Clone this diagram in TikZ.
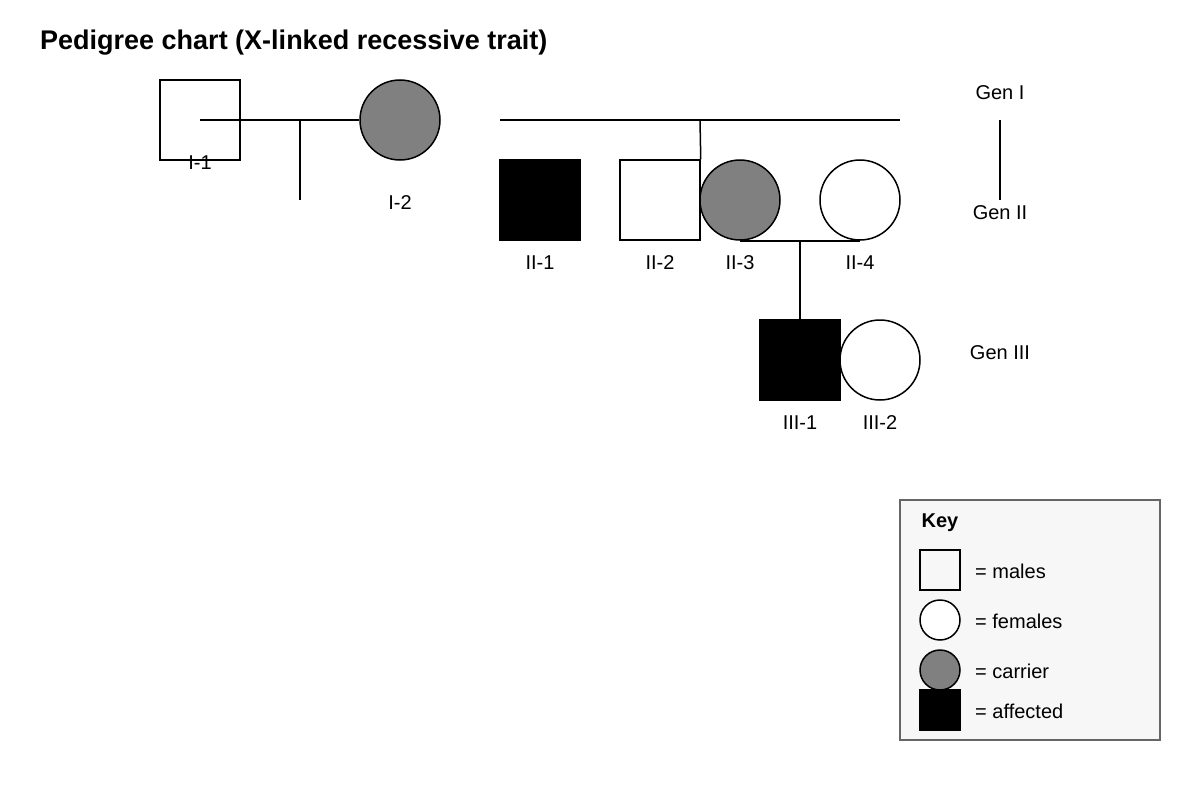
\documentclass[tikz,border=0pt]{standalone}
\usepackage{fontspec}
\setmainfont{Liberation Sans}
\begin{document}
\begin{tikzpicture}[x=1pt,y=-1pt,
  sq/.style={draw,line width=1.5pt,minimum size=80pt,inner sep=0,rectangle},
  ci/.style={draw,line width=1.5pt,minimum size=80pt,inner sep=0,circle},
  ksq/.style={draw,line width=1.5pt,minimum size=40pt,inner sep=0,rectangle},
  kci/.style={draw,line width=1.5pt,minimum size=40pt,inner sep=0,circle},
  lbl/.style={font=\fontsize{20}{24}\selectfont,inner sep=0},
  ln/.style={line width=1.5pt},
  carrier/.style={fill=gray!100!black, fill=black!50}]
\useasboundingbox (0,0) rectangle (1200,800);
\node[anchor=base west,font=\bfseries\fontsize{27}{32}\selectfont,inner sep=0] (title) at (40,50) {Pedigree chart (X-linked recessive trait)};
% Gen I
\node[sq] (I1) at (200,120) {};
\node[ci,carrier] (I2) at (400,120) {};
\coordinate (m1a) at (200,120);
\coordinate (m1b) at (300,120);
\coordinate (m1c) at (300,200);
\draw[ln] (m1a) -- (I2.west);
\draw[ln] (m1b) -- (m1c);
\node[lbl] (lI1) at (200,163) {I-1};
\node[lbl] (lI2) at (400,203) {I-2};
% sibship line
\coordinate (s1) at (500,120);
\coordinate (s2) at (900,120);
\coordinate (s3) at (700,120);
\draw[ln] (s1) -- (s2);
% Gen II
\node[sq,fill=black] (II1) at (540,200) {};
\node[sq] (II2) at (660,200) {};
\node[ci,carrier] (II3) at (740,200) {};
\node[ci] (II4) at (860,200) {};
\draw[ln] (s3) -- (II2.north east);
\node[lbl] (lII1) at (540,263) {II-1};
\node[lbl] (lII2) at (660,263) {II-2};
\node[lbl] (lII3) at (740,263) {II-3};
\node[lbl] (lII4) at (860,263) {II-4};
\coordinate (m2) at (800,240);
\draw[ln] (II3.south) -- (II4.south);
% Gen III
\node[sq,fill=black] (III1) at (800,360) {};
\node[ci] (III2) at (880,360) {};
\draw[ln] (m2) -- (III1.north);
\node[lbl] (lIII1) at (800,423) {III-1};
\node[lbl] (lIII2) at (880,423) {III-2};
% Generations
\node[lbl] (g1) at (1000,93) {Gen I};
\node[lbl] (g2) at (1000,213) {Gen II};
\node[lbl] (g3) at (1000,353) {Gen III};
\coordinate (ga) at (1000,120);
\coordinate (gb) at (1000,200);
\draw[ln] (ga) -- (gb);
% Key
\draw[fill=black!3,draw=black!60,line width=1.2pt] (900,500) rectangle (1160,740);
\node[font=\bfseries\fontsize{20}{24}\selectfont,inner sep=0] (key) at (940,523) {Key};
\node[ksq] (k1) at (940,570) {};
\node[kci,fill=white] (k2) at (940,620) {};
\node[kci,carrier] (k3) at (940,670) {};
\node[ksq,fill=black] (k4) at (940,710) {};
\node[lbl,anchor=west] (t1) at (975,571) {= males};
\node[lbl,anchor=west] (t2) at (975,621) {= females};
\node[lbl,anchor=west] (t3) at (975,671) {= carrier};
\node[lbl,anchor=west] (t4) at (975,711) {= affected};
\end{tikzpicture}
\end{document}
